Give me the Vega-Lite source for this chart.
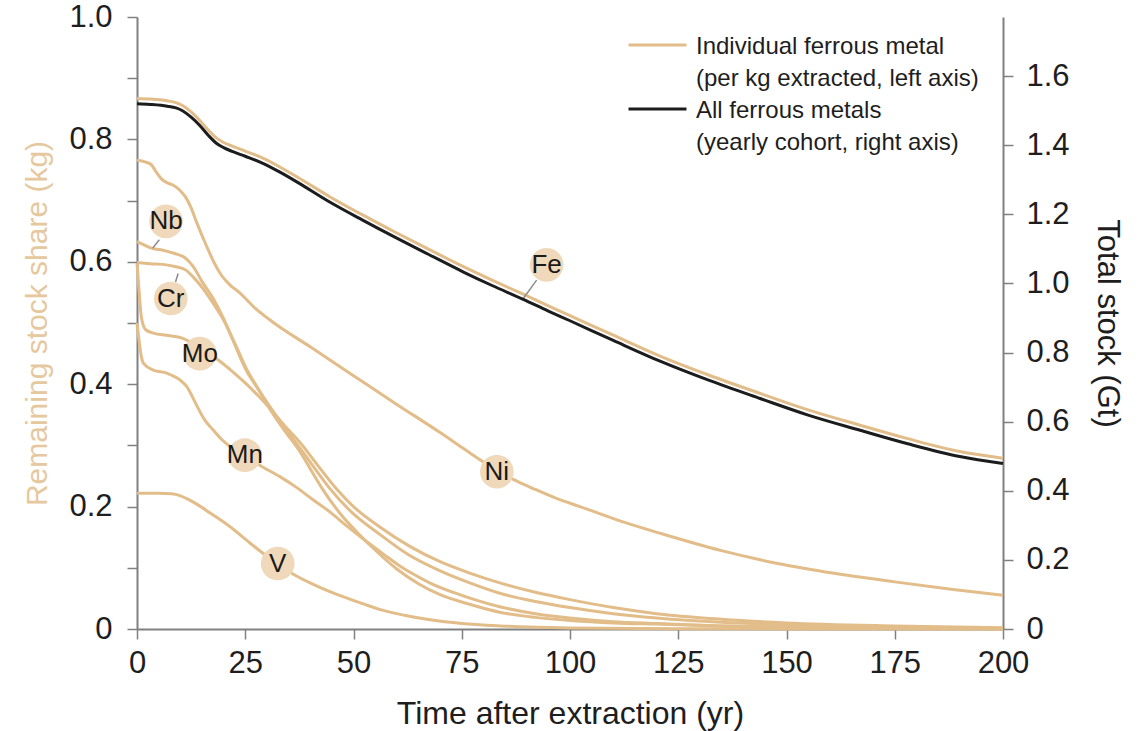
{
  "$schema": "https://vega.github.io/schema/vega-lite/v6.json",
  "width": 866,
  "height": 612,
  "autosize": {"type": "none"},
  "padding": {"left": 137, "top": 17, "right": 144, "bottom": 102},
  "config": {
    "font": "Liberation Sans",
    "view": {"stroke": null},
    "axis": {
      "grid": false,
      "domainColor": "#808080",
      "domainWidth": 2,
      "tickColor": "#808080",
      "tickWidth": 1.5,
      "tickSize": 10,
      "labelFontSize": 31,
      "labelColor": "#1E1E1E",
      "labelPadding": 14,
      "labelOverlap": false,
      "labelFlush": false,
      "titleFontWeight": "normal",
      "titleFontSize": 30,
      "titleColor": "#1E1E1E"
    }
  },
  "datasets": {
    "metals": [
      {"m":"Fe","t":0,"v":0.867},{"m":"Fe","t":3,"v":0.866},{"m":"Fe","t":7,"v":0.863},{"m":"Fe","t":9,"v":0.86},{"m":"Fe","t":10.6,"v":0.855},{"m":"Fe","t":12.5,"v":0.845},{"m":"Fe","t":14.5,"v":0.831},{"m":"Fe","t":16.5,"v":0.815},{"m":"Fe","t":18.4,"v":0.802},{"m":"Fe","t":20,"v":0.795},{"m":"Fe","t":22,"v":0.789},{"m":"Fe","t":25,"v":0.781},{"m":"Fe","t":29.2,"v":0.769},{"m":"Fe","t":33,"v":0.755},{"m":"Fe","t":36.9,"v":0.739},{"m":"Fe","t":44.6,"v":0.706},{"m":"Fe","t":52,"v":0.677},{"m":"Fe","t":60,"v":0.647},{"m":"Fe","t":67.5,"v":0.62},{"m":"Fe","t":75.4,"v":0.592},{"m":"Fe","t":82,"v":0.57},{"m":"Fe","t":89.2,"v":0.547},{"m":"Fe","t":95,"v":0.528},{"m":"Fe","t":100,"v":0.512},{"m":"Fe","t":110,"v":0.48},{"m":"Fe","t":120.8,"v":0.446},{"m":"Fe","t":132,"v":0.415},{"m":"Fe","t":143.9,"v":0.385},{"m":"Fe","t":155,"v":0.358},{"m":"Fe","t":167,"v":0.333},{"m":"Fe","t":178,"v":0.311},{"m":"Fe","t":190,"v":0.29},{"m":"Fe","t":200,"v":0.279},
      {"m":"Ni","t":0,"v":0.766},{"m":"Ni","t":2,"v":0.763},{"m":"Ni","t":3.4,"v":0.758},{"m":"Ni","t":4.5,"v":0.746},{"m":"Ni","t":5.7,"v":0.735},{"m":"Ni","t":7,"v":0.729},{"m":"Ni","t":8.4,"v":0.725},{"m":"Ni","t":10,"v":0.716},{"m":"Ni","t":11.2,"v":0.706},{"m":"Ni","t":12.5,"v":0.688},{"m":"Ni","t":13.8,"v":0.664},{"m":"Ni","t":16.1,"v":0.625},{"m":"Ni","t":18,"v":0.596},{"m":"Ni","t":19.5,"v":0.578},{"m":"Ni","t":21.5,"v":0.562},{"m":"Ni","t":23.8,"v":0.549},{"m":"Ni","t":27,"v":0.526},{"m":"Ni","t":30.7,"v":0.505},{"m":"Ni","t":40,"v":0.461},{"m":"Ni","t":50,"v":0.414},{"m":"Ni","t":60,"v":0.367},{"m":"Ni","t":70,"v":0.321},{"m":"Ni","t":76,"v":0.292},{"m":"Ni","t":80,"v":0.273},{"m":"Ni","t":83.1,"v":0.259},{"m":"Ni","t":87,"v":0.244},{"m":"Ni","t":92,"v":0.228},{"m":"Ni","t":97,"v":0.213},{"m":"Ni","t":102.3,"v":0.2},{"m":"Ni","t":111,"v":0.178},{"m":"Ni","t":121,"v":0.156},{"m":"Ni","t":135,"v":0.128},{"m":"Ni","t":148,"v":0.107},{"m":"Ni","t":161,"v":0.091},{"m":"Ni","t":175,"v":0.077},{"m":"Ni","t":188,"v":0.065},{"m":"Ni","t":200,"v":0.055},
      {"m":"Nb","t":0,"v":0.633},{"m":"Nb","t":1.5,"v":0.628},{"m":"Nb","t":3.5,"v":0.622},{"m":"Nb","t":6,"v":0.619},{"m":"Nb","t":8.5,"v":0.614},{"m":"Nb","t":11,"v":0.607},{"m":"Nb","t":13,"v":0.592},{"m":"Nb","t":15,"v":0.568},{"m":"Nb","t":17.6,"v":0.54},{"m":"Nb","t":20,"v":0.507},{"m":"Nb","t":22.2,"v":0.471},{"m":"Nb","t":25.3,"v":0.422},{"m":"Nb","t":28,"v":0.392},{"m":"Nb","t":31,"v":0.36},{"m":"Nb","t":34,"v":0.33},{"m":"Nb","t":37.6,"v":0.296},{"m":"Nb","t":41,"v":0.263},{"m":"Nb","t":44.6,"v":0.229},{"m":"Nb","t":50,"v":0.188},{"m":"Nb","t":56,"v":0.155},{"m":"Nb","t":63,"v":0.12},{"m":"Nb","t":70,"v":0.095},{"m":"Nb","t":77,"v":0.075},{"m":"Nb","t":84,"v":0.058},{"m":"Nb","t":92,"v":0.045},{"m":"Nb","t":100,"v":0.035},{"m":"Nb","t":110,"v":0.025},{"m":"Nb","t":120,"v":0.018},{"m":"Nb","t":135,"v":0.011},{"m":"Nb","t":150,"v":0.007},{"m":"Nb","t":175,"v":0.003},{"m":"Nb","t":200,"v":0.001},
      {"m":"Cr","t":0,"v":0.599},{"m":"Cr","t":3,"v":0.597},{"m":"Cr","t":6.8,"v":0.595},{"m":"Cr","t":9,"v":0.592},{"m":"Cr","t":11.4,"v":0.586},{"m":"Cr","t":13,"v":0.575},{"m":"Cr","t":14.5,"v":0.563},{"m":"Cr","t":16,"v":0.549},{"m":"Cr","t":17.6,"v":0.532},{"m":"Cr","t":19.9,"v":0.506},{"m":"Cr","t":22.2,"v":0.473},{"m":"Cr","t":25.3,"v":0.425},{"m":"Cr","t":28,"v":0.392},{"m":"Cr","t":31,"v":0.356},{"m":"Cr","t":34,"v":0.325},{"m":"Cr","t":37.6,"v":0.29},{"m":"Cr","t":40,"v":0.262},{"m":"Cr","t":43,"v":0.227},{"m":"Cr","t":47,"v":0.188},{"m":"Cr","t":51,"v":0.157},{"m":"Cr","t":55.3,"v":0.127},{"m":"Cr","t":60,"v":0.098},{"m":"Cr","t":65,"v":0.074},{"m":"Cr","t":70,"v":0.056},{"m":"Cr","t":77,"v":0.04},{"m":"Cr","t":84,"v":0.027},{"m":"Cr","t":92,"v":0.019},{"m":"Cr","t":100,"v":0.014},{"m":"Cr","t":110,"v":0.01},{"m":"Cr","t":120,"v":0.008},{"m":"Cr","t":135,"v":0.005},{"m":"Cr","t":150,"v":0.003},{"m":"Cr","t":175,"v":0.0012},{"m":"Cr","t":200,"v":0.0005},
      {"m":"Mo","t":0,"v":0.598},{"m":"Mo","t":0.4,"v":0.56},{"m":"Mo","t":1,"v":0.51},{"m":"Mo","t":2,"v":0.489},{"m":"Mo","t":4,"v":0.483},{"m":"Mo","t":6.8,"v":0.48},{"m":"Mo","t":10.6,"v":0.475},{"m":"Mo","t":12.5,"v":0.468},{"m":"Mo","t":14.5,"v":0.459},{"m":"Mo","t":18.3,"v":0.442},{"m":"Mo","t":22,"v":0.421},{"m":"Mo","t":25.3,"v":0.4},{"m":"Mo","t":28,"v":0.381},{"m":"Mo","t":31,"v":0.358},{"m":"Mo","t":34,"v":0.333},{"m":"Mo","t":37.6,"v":0.305},{"m":"Mo","t":42,"v":0.265},{"m":"Mo","t":46.2,"v":0.228},{"m":"Mo","t":50,"v":0.2},{"m":"Mo","t":56,"v":0.167},{"m":"Mo","t":63,"v":0.135},{"m":"Mo","t":70,"v":0.11},{"m":"Mo","t":77,"v":0.091},{"m":"Mo","t":84,"v":0.075},{"m":"Mo","t":92,"v":0.06},{"m":"Mo","t":100,"v":0.048},{"m":"Mo","t":110,"v":0.035},{"m":"Mo","t":120,"v":0.025},{"m":"Mo","t":135,"v":0.016},{"m":"Mo","t":150,"v":0.01},{"m":"Mo","t":175,"v":0.005},{"m":"Mo","t":200,"v":0.002},
      {"m":"Mn","t":0,"v":0.5},{"m":"Mn","t":0.5,"v":0.47},{"m":"Mn","t":1,"v":0.445},{"m":"Mn","t":1.5,"v":0.434},{"m":"Mn","t":3.8,"v":0.423},{"m":"Mn","t":6.9,"v":0.418},{"m":"Mn","t":9.9,"v":0.407},{"m":"Mn","t":11.5,"v":0.396},{"m":"Mn","t":13.8,"v":0.365},{"m":"Mn","t":15.5,"v":0.343},{"m":"Mn","t":17.6,"v":0.325},{"m":"Mn","t":19.5,"v":0.31},{"m":"Mn","t":21.5,"v":0.298},{"m":"Mn","t":25,"v":0.282},{"m":"Mn","t":29.2,"v":0.264},{"m":"Mn","t":33,"v":0.249},{"m":"Mn","t":36.9,"v":0.231},{"m":"Mn","t":40.5,"v":0.212},{"m":"Mn","t":44.6,"v":0.191},{"m":"Mn","t":48.5,"v":0.168},{"m":"Mn","t":53,"v":0.143},{"m":"Mn","t":57,"v":0.122},{"m":"Mn","t":60.7,"v":0.103},{"m":"Mn","t":64,"v":0.089},{"m":"Mn","t":67.7,"v":0.075},{"m":"Mn","t":75,"v":0.055},{"m":"Mn","t":84,"v":0.036},{"m":"Mn","t":92,"v":0.025},{"m":"Mn","t":100,"v":0.018},{"m":"Mn","t":110,"v":0.012},{"m":"Mn","t":120,"v":0.009},{"m":"Mn","t":135,"v":0.005},{"m":"Mn","t":150,"v":0.003},{"m":"Mn","t":175,"v":0.001},{"m":"Mn","t":200,"v":0.0005},
      {"m":"V","t":0,"v":0.222},{"m":"V","t":5,"v":0.222},{"m":"V","t":8,"v":0.221},{"m":"V","t":9.9,"v":0.218},{"m":"V","t":11.5,"v":0.213},{"m":"V","t":13.8,"v":0.204},{"m":"V","t":17,"v":0.189},{"m":"V","t":21.5,"v":0.167},{"m":"V","t":26,"v":0.141},{"m":"V","t":32.3,"v":0.107},{"m":"V","t":36,"v":0.09},{"m":"V","t":40.7,"v":0.073},{"m":"V","t":46,"v":0.057},{"m":"V","t":52.3,"v":0.041},{"m":"V","t":56,"v":0.032},{"m":"V","t":62,"v":0.022},{"m":"V","t":67.7,"v":0.015},{"m":"V","t":75,"v":0.009},{"m":"V","t":84,"v":0.005},{"m":"V","t":100,"v":0.0018},{"m":"V","t":125,"v":0.0006},{"m":"V","t":150,"v":0.0002},{"m":"V","t":200,"v":0}
    ],
    "total": [
      {"t":0,"g":1.52},{"t":3,"g":1.518},{"t":7,"g":1.513},{"t":9,"g":1.508},{"t":10.6,"g":1.499},{"t":12.5,"g":1.481},{"t":14.5,"g":1.457},{"t":16.5,"g":1.428},{"t":18.4,"g":1.405},{"t":20,"g":1.393},{"t":22,"g":1.382},{"t":25,"g":1.368},{"t":29.2,"g":1.347},{"t":33,"g":1.322},{"t":36.9,"g":1.294},{"t":44.6,"g":1.235},{"t":52,"g":1.184},{"t":60,"g":1.131},{"t":67.5,"g":1.083},{"t":75.4,"g":1.033},{"t":82,"g":0.994},{"t":89.2,"g":0.954},{"t":95,"g":0.92},{"t":100,"g":0.892},{"t":110,"g":0.835},{"t":120.8,"g":0.775},{"t":132,"g":0.72},{"t":143.9,"g":0.667},{"t":155,"g":0.619},{"t":167,"g":0.575},{"t":178,"g":0.536},{"t":190,"g":0.499},{"t":200,"g":0.479}
    ],
    "leaders": [
      {"m":"Nb","t":5.15,"v":0.636,"t2":3.6,"v2":0.622},
      {"m":"Cr","t":9.5,"v":0.581,"t2":8.9,"v2":0.567},
      {"m":"Fe","t":92.3,"v":0.57,"t2":89.2,"v2":0.54}
    ],
    "labels": [
      {"m":"Nb","t":6.7,"v":0.666},
      {"m":"Cr","t":7.8,"v":0.54},
      {"m":"Mo","t":14.5,"v":0.45},
      {"m":"Mn","t":24.9,"v":0.284},
      {"m":"V","t":32.5,"v":0.107},
      {"m":"Ni","t":83.1,"v":0.257},
      {"m":"Fe","t":94.6,"v":0.595}
    ]
  },
  "layer": [
    {
      "layer": [
        {
          "mark": {"type": "rule", "stroke": "#BDBDBD", "strokeWidth": 2, "strokeDash": [10, 7]},
          "encoding": {
            "x": {"datum": 5, "type": "quantitative"},
            "x2": {"datum": 198},
            "y": {"datum": 0.5, "type": "quantitative"}
          }
        },
        {
          "mark": {"type": "text", "align": "right", "baseline": "alphabetic", "fontSize": 26, "color": "#B3B3B3", "dy": -13},
          "encoding": {
            "x": {"datum": 197.6, "type": "quantitative"},
            "y": {"datum": 0.5, "type": "quantitative"},
            "text": {"value": "50% remaining in use"}
          }
        },
        {
          "data": {"name": "metals"},
          "mark": {"type": "line", "interpolate": "monotone", "strokeWidth": 3},
          "encoding": {
            "x": {
              "field": "t", "type": "quantitative", "title": "Time after extraction (yr)",
              "scale": {"domain": [0, 200], "nice": false},
              "axis": {"values": [0, 25, 50, 75, 100, 125, 150, 175, 200], "labelPadding": 9, "titlePadding": 20, "titleFontSize": 32}
            },
            "y": {
              "field": "v", "type": "quantitative", "title": "Remaining stock share (kg)",
              "scale": {"domain": [0, 1], "nice": false},
              "axis": {
                "orient": "left",
                "values": [0, 0.1, 0.2, 0.3, 0.4, 0.5, 0.6, 0.7, 0.8, 0.9, 1.0],
                "labelExpr": "datum.value == 0 ? '0' : (round(datum.value * 10) % 2 == 0 ? format(datum.value, '.1f') : '')",
                "labelPadding": 15,
                "titleColor": "#E6C89E",
                "titleFontSize": 30,
                "titlePadding": 16
              }
            },
            "detail": {"field": "m"},
            "color": {
              "datum": "ind",
              "scale": {"domain": ["ind", "all"], "range": ["#E2BD89", "#1C1C1C"]},
              "legend": {
                "orient": "none", "legendX": 490, "legendY": 12, "title": null,
                "symbolType": "stroke", "symbolSize": 3364, "symbolStrokeWidth": 3,
                "labelFontSize": 24, "labelColor": "#1E1E1E", "labelOffset": 8, "labelLimit": 500,
                "rowPadding": 2,
                "labelExpr": "datum.value == 'ind' ? ['Individual ferrous metal', '(per kg extracted, left axis)'] : ['All ferrous metals', '(yearly cohort, right axis)']",
                "encode": {
                  "labels": {"update": {"lineHeight": {"value": 32}, "dy": {"value": -13}}},
                  "symbols": {"update": {"y": {"value": 16}}}
                }
              }
            }
          }
        },
        {
          "data": {"name": "leaders"},
          "mark": {"type": "rule", "stroke": "#8C8C8C", "strokeWidth": 1.5},
          "encoding": {
            "x": {"field": "t", "type": "quantitative", "title": "Time after extraction (yr)"},
            "y": {"field": "v", "type": "quantitative", "title": "Remaining stock share (kg)"},
            "x2": {"field": "t2"},
            "y2": {"field": "v2"}
          }
        },
        {
          "data": {"name": "labels"},
          "mark": {"type": "point", "filled": true, "size": 1134, "color": "#EFD9BA", "opacity": 1, "strokeWidth": 0},
          "encoding": {
            "x": {"field": "t", "type": "quantitative", "title": "Time after extraction (yr)"},
            "y": {"field": "v", "type": "quantitative", "title": "Remaining stock share (kg)"}
          }
        },
        {
          "data": {"name": "labels"},
          "mark": {"type": "text", "fontSize": 26, "color": "#1A1A1A", "align": "center", "baseline": "middle"},
          "encoding": {
            "x": {"field": "t", "type": "quantitative", "title": "Time after extraction (yr)"},
            "y": {"field": "v", "type": "quantitative", "title": "Remaining stock share (kg)"},
            "text": {"field": "m"}
          }
        }
      ]
    },
    {
      "data": {"name": "total"},
      "mark": {"type": "line", "interpolate": "monotone", "strokeWidth": 3},
      "encoding": {
        "x": {"field": "t", "type": "quantitative", "title": "Time after extraction (yr)"},
        "y": {
          "field": "g", "type": "quantitative", "title": "Total stock (Gt)",
          "scale": {"domain": [0, 1.771], "nice": false},
          "axis": {
            "orient": "right",
            "values": [0, 0.2, 0.4, 0.6, 0.8, 1.0, 1.2, 1.4, 1.6],
            "labelExpr": "datum.value == 0 ? '0' : format(datum.value, '.1f')",
            "labelPadding": 13,
            "titleFontSize": 31,
            "titlePadding": 21
          }
        },
        "color": {
          "datum": "all",
          "scale": {"domain": ["ind", "all"], "range": ["#E2BD89", "#1C1C1C"]}
        }
      }
    }
  ],
  "resolve": {"scale": {"y": "independent"}}
}
